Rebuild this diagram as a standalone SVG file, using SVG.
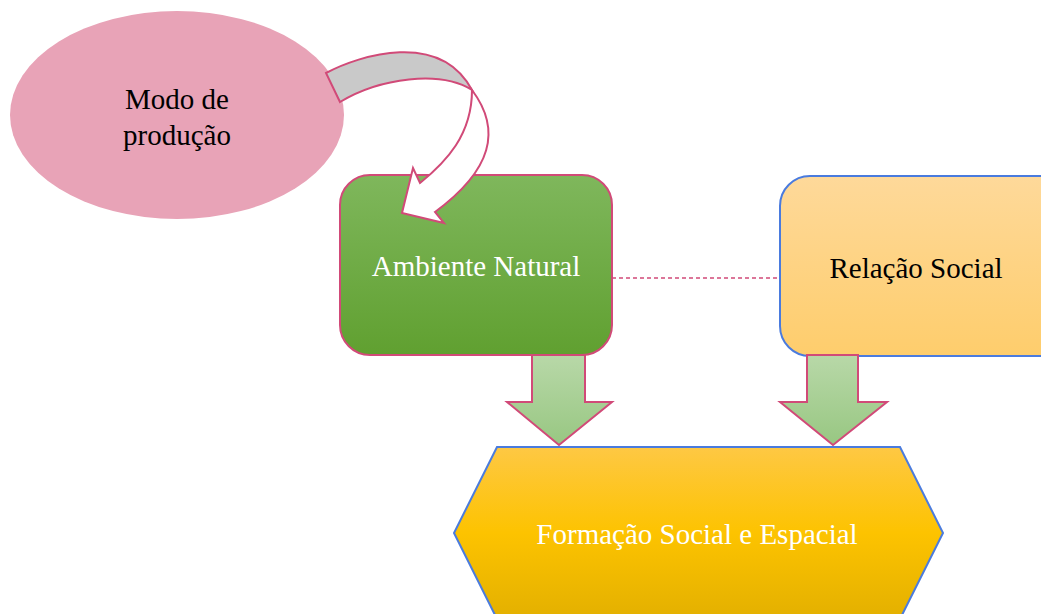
<svg xmlns="http://www.w3.org/2000/svg" width="1041" height="614" viewBox="0 0 1041 614">
<style>
text{font-family:"Liberation Serif","Times New Roman",serif;font-size:29px;text-anchor:middle}
.pk{stroke:#d14a78;stroke-width:2}
.bl{stroke:#4a7bde;stroke-width:2}
</style>
<defs>
<linearGradient id="gGreen" x1="0" y1="0" x2="0" y2="1"><stop offset="0" stop-color="#7fb75c"/><stop offset="1" stop-color="#60a030"/></linearGradient>
<linearGradient id="gOrange" x1="0" y1="0" x2="0" y2="1"><stop offset="0" stop-color="#fed99a"/><stop offset="1" stop-color="#fecd6c"/></linearGradient>
<linearGradient id="gArrow" x1="0" y1="0" x2="0" y2="1"><stop offset="0" stop-color="#b8d8a8"/><stop offset="1" stop-color="#98c782"/></linearGradient>
<linearGradient id="gHex" x1="0" y1="0" x2="0" y2="1"><stop offset="0" stop-color="#fec844"/><stop offset="0.5" stop-color="#fdc300"/><stop offset="1" stop-color="#e3b000"/></linearGradient>
</defs>
<g id="modo-producao">
<ellipse cx="177" cy="115" rx="167" ry="104" fill="#e8a3b7"/>
<text x="177" y="109" fill="#000">Modo de</text>
<text x="177" y="145" fill="#000">produção</text>
</g>
<g id="ambiente-natural">
<rect x="340" y="175" width="272" height="180" rx="30" fill="url(#gGreen)" class="pk"/>
<text x="476" y="276" fill="#fff">Ambiente Natural</text>
</g>
<g id="relacao-social">
<rect x="780" y="176" width="290" height="180" rx="30" fill="url(#gOrange)" class="bl"/>
<text x="916" y="278" fill="#000">Relação Social</text>
</g>
<g id="formacao">
<polygon points="497,447 900,447 943,533 900,619 497,619 454,533" fill="url(#gHex)" class="bl"/>
<text x="697" y="544" fill="#fff">Formação Social e Espacial</text>
</g>
<g id="connectors">
<path d="M326,73 C360,55 440,30 472,90 C440,70 380,78 340,102 Z" fill="#c9c9c9" class="pk"/>
<path d="M472,90 C502,130 492,170 435,212 L444,223 L402,213 L413,168 L420,183 C446,162 472,135 472,90 Z" fill="#fff" class="pk" stroke-linejoin="miter"/>
<line x1="612" y1="278" x2="780" y2="278" stroke="#d14a78" stroke-width="1.5" stroke-dasharray="4,3"/>
<polygon points="532,355 585,355 585,402 612,402 559,445 507,402 532,402" fill="url(#gArrow)" class="pk"/>
<polygon points="807,355 858,355 858,402 887,402 833,445 780,402 807,402" fill="url(#gArrow)" class="pk"/>
</g>
</svg>
